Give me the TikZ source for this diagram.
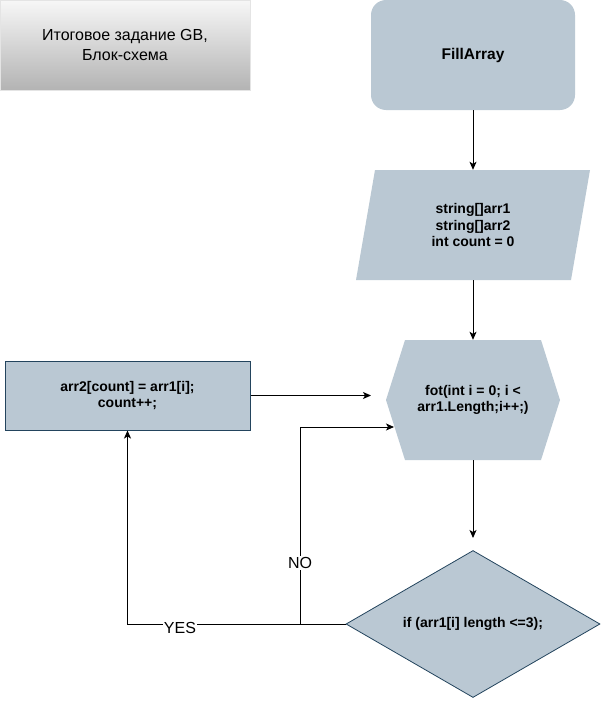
\documentclass[tikz,border=0pt]{standalone}
\usepackage{fontspec}
\setmainfont{Liberation Sans}
\usetikzlibrary{shapes.geometric}
\usetikzlibrary{arrows.meta}
\definecolor{blockfill}{HTML}{BAC8D3}
\definecolor{blockline}{HTML}{23445D}
\definecolor{titletop}{HTML}{F7F7F7}
\definecolor{titlebot}{HTML}{B3B3B3}
\definecolor{titleline}{HTML}{E4E4E4}

\tikzset{
	lbl/.style={font=\fontsize{14}{16.5}\selectfont\bfseries, align=center, inner sep=0pt},
	edgelbl/.style={font=\fontsize{16}{19}\selectfont, fill=white, inner sep=1pt},
	arrow/.style={line width=1pt, -{Stealth[length=8pt,width=7pt,inset=2pt]}},
	link/.style={line width=1pt}
}

\begin{document}
\begin{tikzpicture}[x=1pt,y=-1pt]
	\useasboundingbox (0,0) rectangle (601,701);
	
	% title
	\node[top color=titletop, bottom color=titlebot, draw=titleline, minimum width=250pt, minimum height=90pt, align=center, font=\fontsize{16}{20.5}\selectfont] (title) at (125,45) {Итоговое задание GB,\\Блок-схема};
	
	% start
	\node[lbl, font=\fontsize{15.5}{18}\selectfont\bfseries, rounded corners=15pt, fill=blockfill, minimum width=204pt, minimum height=110pt] (start) at (473,55) {FillArray};
	
	% input
	\fill[blockfill] (356,280) -- (571,280) -- (590,170) -- (375,170) -- cycle;
	\node[lbl, minimum width=215pt, minimum height=110pt] (input) at (473,225) {string[]arr1\\string[]arr2\\int count = 0};
	
	% loop
	\fill[blockfill] (386,400) -- (405,340) -- (541,340) -- (560,400) -- (541,460) -- (405,460) -- cycle;
	\node[lbl, minimum width=174pt, minimum height=120pt] (loop) at (473,400) {fot(int i = 0; i <\\arr1.Length;i++;)};
	
	% condition
	\node[lbl, diamond, aspect=1.7, fill=blockfill, draw=blockline, line width=0.8pt, minimum width=254pt, minimum height=147pt] (cond) at (473,624) {if (arr1[i] length <=3);};
	
	% body
	\node[lbl, fill=blockfill, draw=blockline, line width=1pt, minimum width=245pt, minimum height=69pt] (body) at (127.5,395.5) {arr2[count] = arr1[i];\\count++;};
	
	
	\coordinate (loopin) at (371,395.5);
	\coordinate (condin) at (473,538);
	\coordinate (nofork) at (300,624);
	\coordinate (noturn) at (300,427);
	\coordinate (loopback) at (394,427);
	
	\draw[arrow] (start.south) -- (input.north);
	\draw[arrow] (input.south) -- (loop.north);
	\draw[arrow] (loop.south) -- (condin);
	\draw[arrow] (body.east) -- (loopin);
	
	% yes
	\draw[arrow] (cond.west) -- (cond.west -| body.south) -- (body.south);
	% no
	\draw[arrow] (nofork) -- (noturn) -- (loopback);
	
	\node[edgelbl] (yes) at (180,628) {YES};
	\node[edgelbl] (no) at (300,563) {NO};
	
\end{tikzpicture}
\end{document}
